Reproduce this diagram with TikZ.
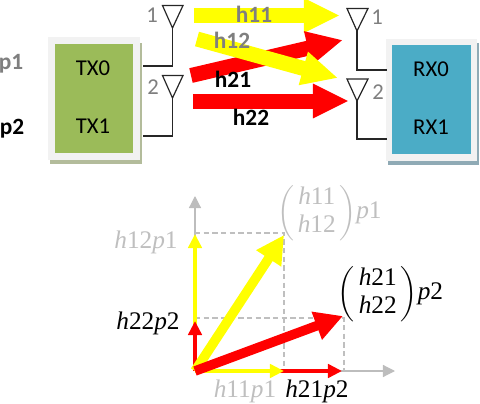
\documentclass[tikz,border=0pt]{standalone}
\usepackage{amsmath}
\usepackage{fontspec}
\setmainfont{Carlito}
\newfontfamily\mfont{Liberation Serif}
\usetikzlibrary{arrows.meta}
\definecolor{txgreen}{HTML}{9BBB59}
\definecolor{rxblue}{HTML}{4BACC6}
\definecolor{frameg}{HTML}{F2F2F2}
\definecolor{shadeg}{HTML}{B3BC9B}
\definecolor{shadeb}{HTML}{8FAAB5}
\definecolor{lab}{HTML}{7F7F7F}
\definecolor{pale}{HTML}{BFBFBF}
\definecolor{axisg}{HTML}{BDBDBD}
\definecolor{dashg}{HTML}{BFBFBF}
\definecolor{yel}{HTML}{FFFF00}
\definecolor{rd}{HTML}{FF0000}
\newcommand{\hh}[1]{\mbox{\mfont\itshape h\/\upshape #1}}
\newcommand{\pp}[1]{\mbox{\mfont\itshape p\/\upshape #1}}
\tikzset{
 txt/.style={inner sep=0pt,font=\fontsize{17}{20}\selectfont},
 boldtxt/.style={inner sep=0pt,font=\fontsize{17.5}{20}\selectfont\bfseries},
 mathtxt/.style={inner sep=0pt,font=\fontsize{19}{21}\selectfont\mfont},
 wire/.style={draw=black!85,line width=0.9pt},
 ant/.style={wire,line join=miter},
 fat/.style={line width=#1,-{Triangle[length=27pt,width=24pt]}},
 axisl/.style={draw=axisg,line width=0.9pt,-{Triangle[length=9pt,width=9pt]}},
 guide/.style={draw=dashg,line width=0.8pt,dash pattern=on 4pt off 2.5pt},
 thinv/.style={line width=3pt,-{Triangle[length=10.5pt,width=10pt]}},
 thinr/.style={line width=3.6pt,-{Triangle[length=10.5pt,width=10pt]}},
 diagv/.style={line width=7.2pt,-{Triangle[length=21pt,width=21pt]}},
}
\begin{document}
\begin{tikzpicture}[x=0.75pt,y=-0.75pt]
\useasboundingbox (0,0) rectangle (480,404);
% boxes
\fill[shadeg] (50,43) rectangle (142,164);
\fill[frameg] (48,37) rectangle (140,160);
\node[fill=txgreen,inner sep=0pt,minimum width=58.5pt,minimum height=81.75pt] (tx) at (94,98.5) {};
\fill[shadeb] (388,43) rectangle (479,165);
\fill[frameg] (386,39) rectangle (477,161);
\node[fill=rxblue,inner sep=0pt,minimum width=59.25pt,minimum height=81.75pt] (rx) at (431.5,99.5) {};
\node[txt] (tx0) at (93,68) {TX0};
\node[txt] (tx1) at (93,126) {TX1};
\node[txt] (rx0) at (431,69) {RX0};
\node[txt] (rx1) at (431,127) {RX1};
% antennas
\coordinate (ta1) at (172.5,28); \coordinate (tb1) at (143,66);
\coordinate (ta2) at (172.5,98); \coordinate (tb2) at (143,136);
\coordinate (ra1) at (357,31); \coordinate (rb1) at (387,70);
\coordinate (ra2) at (357,101); \coordinate (rb2) at (387,139);
\draw[ant] (ta1) -- (162.5,5.5) -- (183,5.5) -- cycle;
\draw[ant] (ta2) -- (162.5,75.5) -- (183,75.5) -- cycle;
\draw[ant] (ra1) -- (347,8.5) -- (368,8.5) -- cycle;
\draw[ant] (ra2) -- (347,79) -- (368,79) -- cycle;
\draw[wire] (ta1) |- (tb1);
\draw[wire] (ta2) |- (tb2);
\draw[wire] (ra1) |- (rb1);
\draw[wire] (ra2) |- (rb2);
\node[txt,text=lab] (n1) at (152,15) {1};
\node[txt,text=lab] (n2) at (153,87) {2};
\node[txt,text=lab] (n3) at (377,17) {1};
\node[txt,text=lab] (n4) at (378,92) {2};
\node[boldtxt,text=lab] (p1) at (11,64) {p1};
\node[boldtxt] (p2) at (12,129) {p2};
% fat arrows
\coordinate (s11) at (194,15.5); \coordinate (e11) at (340,15.5);
\coordinate (s21) at (191,75.5); \coordinate (e21) at (343,40);
\coordinate (s12) at (197,39); \coordinate (e12) at (338,78);
\coordinate (s22) at (193,101); \coordinate (e22) at (349,101);
\draw[fat=11.25pt,yel] (s11) -- (e11);
\draw[fat=11.25pt,rd] (s21) -- (e21);
\draw[fat=11.25pt,yel] (s12) -- (e12);
\draw[fat=11.25pt,rd] (s22) -- (e22);
\node[boldtxt,text=lab] (h11) at (254,14) {h11};
\node[boldtxt,text=lab] (h12) at (232,40) {h12};
\node[boldtxt] (h21) at (233,79) {h21};
\node[boldtxt] (h22) at (251,117) {h22};
% chart
\coordinate (o) at (195,371);
\coordinate (ay) at (195,196); \coordinate (ax) at (395,371);
\coordinate (a) at (284,235); \coordinate (b) at (343,316);
\coordinate (ya) at (195,233); \coordinate (yb) at (195,318);
\coordinate (xa) at (284,371); \coordinate (xb) at (344,371);
\draw[axisl] (o) -- (ay);
\draw[axisl] (o) -- (ax);
\draw[guide] (ya) -- (284,233) -- (xa);
\draw[guide] (yb) -- (344,318) -- (xb);
\draw[thinr,rd] (o) -- (342,371);
\draw[thinv,yel] (o) -- (284,371);
\draw[thinv,yel] (o) -- (195,234);
\draw[thinr,rd] (o) -- (195,321);
\draw[diagv,yel] (o) -- (a);
\draw[diagv,rd] (o) -- (b);
\node[mathtxt,text=pale] (l1) at (146,242) {\hh{12}\pp{1}};
\node[mathtxt] (l2) at (148,323) {\hh{22}\pp{2}};
\node[mathtxt,text=pale] (l3) at (245,391) {\hh{11}\pp{1}};
\node[mathtxt] (l4) at (317,391) {\hh{21}\pp{2}};
\node[mathtxt,text=pale] (m1) at (329.5,213) {$\begin{pmatrix}\hspace{3pt}\hh{11}\hspace{3pt}\\ \hh{12}\end{pmatrix}$\pp{1}};
\node[mathtxt] (m2) at (390.5,294) {$\begin{pmatrix}\hspace{3pt}\hh{21}\hspace{3pt}\\ \hh{22}\end{pmatrix}$\pp{2}};
\end{tikzpicture}
\end{document}
